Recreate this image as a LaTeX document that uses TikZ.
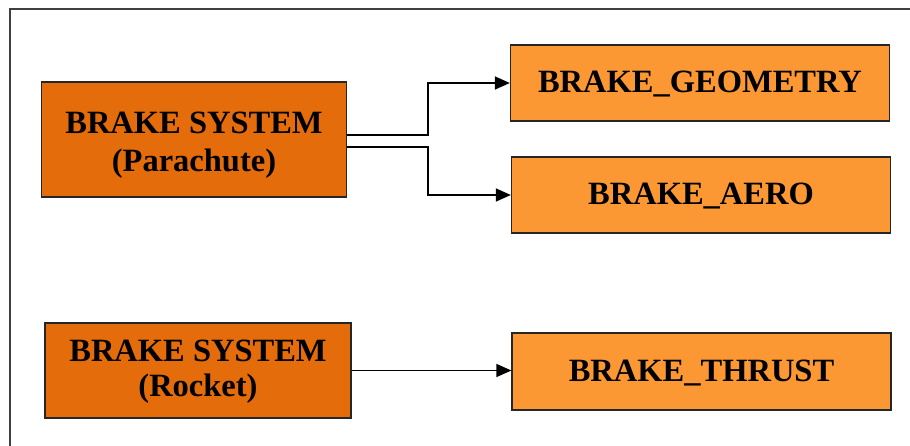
\documentclass[tikz,border=0pt]{standalone}
\usepackage{fontspec}
\setmainfont{Liberation Serif}
\usetikzlibrary{arrows.meta}
\definecolor{darkorange}{RGB}{228,108,10}
\definecolor{lightorange}{RGB}{252,152,52}
\definecolor{framegray}{RGB}{64,64,64}
\begin{document}
\begin{tikzpicture}[x=1pt,y=-1pt,
  box/.style={draw=black!85, line width=1.3pt, inner sep=0pt, align=center},
  mainbox/.style={box, fill=darkorange},
  boxtext/.style={inner sep=0pt, align=center, font=\bfseries\fontsize{32.5}{#1}\selectfont},
  subbox/.style={box, fill=lightorange, text height=19pt, text depth=0pt,
    font=\bfseries\fontsize{32.5}{37.5}\selectfont},
  arr/.style={draw=black, line width=1.4pt, -{Triangle[length=15pt,width=13pt]}}]
\useasboundingbox (0,0) rectangle (910,446);
\draw[framegray, line width=2pt] (910,9.5) -- (9.5,9.5) -- (9.5,446);
\node[mainbox, minimum width=305pt, minimum height=115pt,
  label={[boxtext=37.5, yshift=-5.5pt]center:{BRAKE SYSTEM\\(Parachute)}}] (par) at (194,139.5) {};
\node[mainbox, minimum width=306pt, minimum height=95pt,
  label={[boxtext=35.5, yshift=-1pt]center:{BRAKE SYSTEM\\(Rocket)}}] (roc) at (198,370.5) {};
\node[subbox, minimum width=379pt, minimum height=76pt] (geo) at (700,83) {BRAKE\_GEOMETRY};
\node[subbox, minimum width=379pt, minimum height=76pt] (aero) at (701,195) {BRAKE\_AERO};
\node[subbox, minimum width=379pt, minimum height=77pt, text height=20.4pt] (thr) at (701.5,371.5) {BRAKE\_THRUST};
\coordinate (j1) at (428,135);
\coordinate (j2) at (428,147);
\draw[arr] (par.east |- j1) -- (j1) |- (geo.west);
\draw[arr] (par.east |- j2) -- (j2) |- (aero.west);
\draw[arr] (roc.east) -- (roc.east -| thr.west);
\end{tikzpicture}
\end{document}
